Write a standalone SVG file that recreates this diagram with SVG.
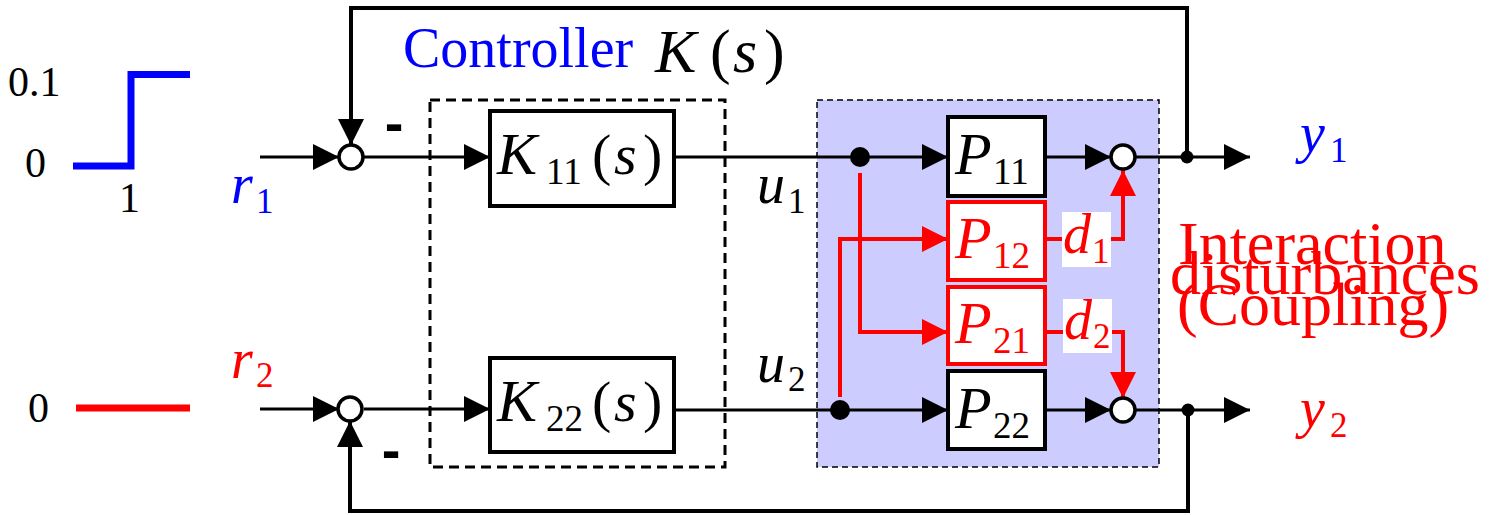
<svg xmlns="http://www.w3.org/2000/svg" width="1493" height="515" viewBox="0 0 1493 515">
<style>
  text { font-family: "Liberation Serif", "Times New Roman", serif; }
  .num { font-size: 42px; fill: #000; }
  .mi { font-style: italic; }
  .big { font-size: 58px; }
  .bigk { font-size: 60px; }
  .sub { font-size: 37px; }
  .lbl { font-size: 56px; }
  .lsub { font-size: 35px; }
  .blk { fill: #000; }
  .blue { fill: #0000ff; }
  .red { fill: #ff0000; }
  .box { fill: #fff; stroke: #000; stroke-width: 4; }
  .rbox { fill: #fff; stroke: #ff0000; stroke-width: 4; }
  .sum { fill: #fff; stroke: #000; stroke-width: 3.5; }
  .dot { fill: #000; }
  .wire { fill: none; stroke: #000; stroke-width: 3; }
  .fb { fill: none; stroke: #000; stroke-width: 4; }
  .rwire { fill: none; stroke: #ff0000; stroke-width: 4; }
  .minus { font-family: "Liberation Sans", Arial, sans-serif; font-weight: bold; font-size: 56px; fill: #000; }
</style>
<defs>
  <marker id="ah" viewBox="0 0 26 26" refX="26" refY="13" markerWidth="26" markerHeight="26" markerUnits="userSpaceOnUse" orient="auto">
    <path d="M0,0 L26,13 L0,26 z" fill="#000"/>
  </marker>
  <marker id="ahr" viewBox="0 0 26 26" refX="26" refY="13" markerWidth="26" markerHeight="26" markerUnits="userSpaceOnUse" orient="auto">
    <path d="M0,0 L26,13 L0,26 z" fill="#ff0000"/>
  </marker>
</defs>

<!-- reference signals -->
<g id="ref1">
  <path d="M73,166 H131 V74.5 H190" fill="none" stroke="#0000ff" stroke-width="7"/>
  <text class="num" x="8" y="96">0.1</text>
  <text class="num" x="25" y="177">0</text>
  <text class="num" x="119" y="212">1</text>
</g>
<g id="ref2">
  <line x1="76" y1="408" x2="190" y2="408" stroke="#ff0000" stroke-width="7"/>
  <text class="num" x="28" y="422">0</text>
</g>

<!-- panels -->
<g id="controller">
  <rect x="430" y="100" width="295" height="367" fill="none" stroke="#000" stroke-width="3" stroke-dasharray="10 6"/>
  <text x="403" y="67" font-size="56" class="blue">Controller</text>
  <text y="72" font-size="62" class="blk"><tspan x="655" class="mi">K</tspan><tspan x="710">(</tspan><tspan x="733" class="mi">s</tspan><tspan x="764">)</tspan></text>
</g>
<g id="plant">
  <rect x="817" y="100" width="342" height="367" fill="#ccccff" stroke="#000" stroke-width="1.5" stroke-dasharray="6 4"/>
</g>

<!-- connectors -->
<g id="connectors">
  <line class="wire" x1="260" y1="157" x2="339" y2="157" marker-end="url(#ah)"/>
  <line class="wire" x1="364" y1="157" x2="490" y2="157" marker-end="url(#ah)"/>
  <line class="wire" x1="674" y1="157" x2="948" y2="157" marker-end="url(#ah)"/>
  <line class="wire" x1="1045" y1="157" x2="1111" y2="157" marker-end="url(#ah)"/>
  <line class="wire" x1="1135" y1="157" x2="1250" y2="157" marker-end="url(#ah)"/>
  <path class="fb" d="M1187,157 V8 H351 V145" marker-end="url(#ah)"/>

  <line class="wire" x1="260" y1="409" x2="339" y2="409" marker-end="url(#ah)"/>
  <line class="wire" x1="364" y1="409" x2="490" y2="409" marker-end="url(#ah)"/>
  <line class="wire" x1="674" y1="410" x2="948" y2="410" marker-end="url(#ah)"/>
  <line class="wire" x1="1045" y1="410" x2="1111" y2="410" marker-end="url(#ah)"/>
  <line class="wire" x1="1135" y1="410" x2="1250" y2="410" marker-end="url(#ah)"/>
  <path class="fb" d="M1188,410 V511 H350 V421" marker-end="url(#ah)"/>

  <path class="rwire" d="M860,173 V332 H948" marker-end="url(#ahr)"/>
  <path class="rwire" d="M840,397 V239 H948" marker-end="url(#ahr)"/>
  <path class="rwire" d="M1046,239 H1123 V170" stroke-width="5" marker-end="url(#ahr)"/>
  <path class="rwire" d="M1046,332 H1123 V398" stroke-width="5" marker-end="url(#ahr)"/>

  <circle class="dot" cx="860" cy="157" r="10"/>
  <circle class="dot" cx="840" cy="410" r="10"/>
  <circle class="dot" cx="1187" cy="157" r="6.5"/>
  <circle class="dot" cx="1188" cy="410" r="6.5"/>
</g>

<!-- summing junctions -->
<g id="sum1"><circle class="sum" cx="351" cy="157" r="12"/><text class="minus" x="394" y="142" text-anchor="middle">-</text></g>
<g id="sum2"><circle class="sum" cx="350" cy="409" r="12"/><text class="minus" x="391" y="469" text-anchor="middle">-</text></g>
<g id="sum3"><circle class="sum" cx="1123" cy="157" r="12"/></g>
<g id="sum4"><circle class="sum" cx="1123" cy="410" r="12"/></g>

<!-- controller blocks -->
<g id="K11">
  <rect class="box" x="490" y="111" width="184" height="95"/>
  <text class="blk"><tspan x="497" y="174" class="bigk mi">K</tspan><tspan x="546" y="184" class="sub">11</tspan><tspan x="592" y="174" class="big">(</tspan><tspan x="614" y="174" class="big mi">s</tspan><tspan x="643" y="174" class="big">)</tspan></text>
</g>
<g id="K22">
  <rect class="box" x="490" y="358" width="184" height="94"/>
  <text class="blk"><tspan x="497" y="421" class="bigk mi">K</tspan><tspan x="546" y="431" class="sub">22</tspan><tspan x="592" y="421" class="big">(</tspan><tspan x="614" y="421" class="big mi">s</tspan><tspan x="643" y="421" class="big">)</tspan></text>
</g>

<!-- plant blocks -->
<g id="P11">
  <rect class="box" x="948" y="117" width="97" height="79"/>
  <text class="blk"><tspan x="955" y="174" class="bigk mi">P</tspan><tspan x="993" y="184" class="sub">11</tspan></text>
</g>
<g id="P12">
  <rect class="rbox" x="948" y="202" width="97" height="78"/>
  <text class="red"><tspan x="955" y="258" class="bigk mi">P</tspan><tspan x="993" y="268" class="sub">12</tspan></text>
</g>
<g id="P21">
  <rect class="rbox" x="948" y="287" width="97" height="77"/>
  <text class="red"><tspan x="955" y="343" class="bigk mi">P</tspan><tspan x="993" y="353" class="sub">21</tspan></text>
</g>
<g id="P22">
  <rect class="box" x="948" y="371" width="97" height="78"/>
  <text class="blk"><tspan x="955" y="428" class="bigk mi">P</tspan><tspan x="993" y="438" class="sub">22</tspan></text>
</g>

<!-- disturbance labels -->
<g id="d1">
  <rect x="1062" y="212" width="49" height="55" fill="#fff"/>
  <text class="red"><tspan x="1063" y="253" class="lbl mi">d</tspan><tspan x="1092" y="263" class="lsub">1</tspan></text>
</g>
<g id="d2">
  <rect x="1063" y="299" width="49" height="54" fill="#fff"/>
  <text class="red"><tspan x="1064" y="339" class="lbl mi">d</tspan><tspan x="1093" y="348" class="lsub">2</tspan></text>
</g>

<!-- signal labels -->
<g id="r1"><text class="blue"><tspan x="231" y="203" class="lbl mi">r</tspan><tspan x="256" y="213" class="lsub">1</tspan></text></g>
<g id="r2"><text class="red"><tspan x="231" y="378" class="lbl mi">r</tspan><tspan x="256" y="387" class="lsub">2</tspan></text></g>
<g id="u1"><text class="blk"><tspan x="757" y="203" class="lbl mi">u</tspan><tspan x="788" y="213" class="lsub">1</tspan></text></g>
<g id="u2"><text class="blk"><tspan x="757" y="382" class="lbl mi">u</tspan><tspan x="788" y="391" class="lsub">2</tspan></text></g>
<g id="y1"><text class="blue"><tspan x="1300" y="152" class="lbl mi">y</tspan><tspan x="1330" y="162" class="lsub">1</tspan></text></g>
<g id="y2"><text class="red"><tspan x="1300" y="427" class="lbl mi">y</tspan><tspan x="1330" y="437" class="lsub">2</tspan></text></g>

<g id="coupling-note">
  <text class="red" font-size="62"><tspan x="1178" y="264">Interaction</tspan><tspan x="1170" y="294">disturbances</tspan><tspan x="1177" y="325">(Coupling)</tspan></text>
</g>
</svg>
